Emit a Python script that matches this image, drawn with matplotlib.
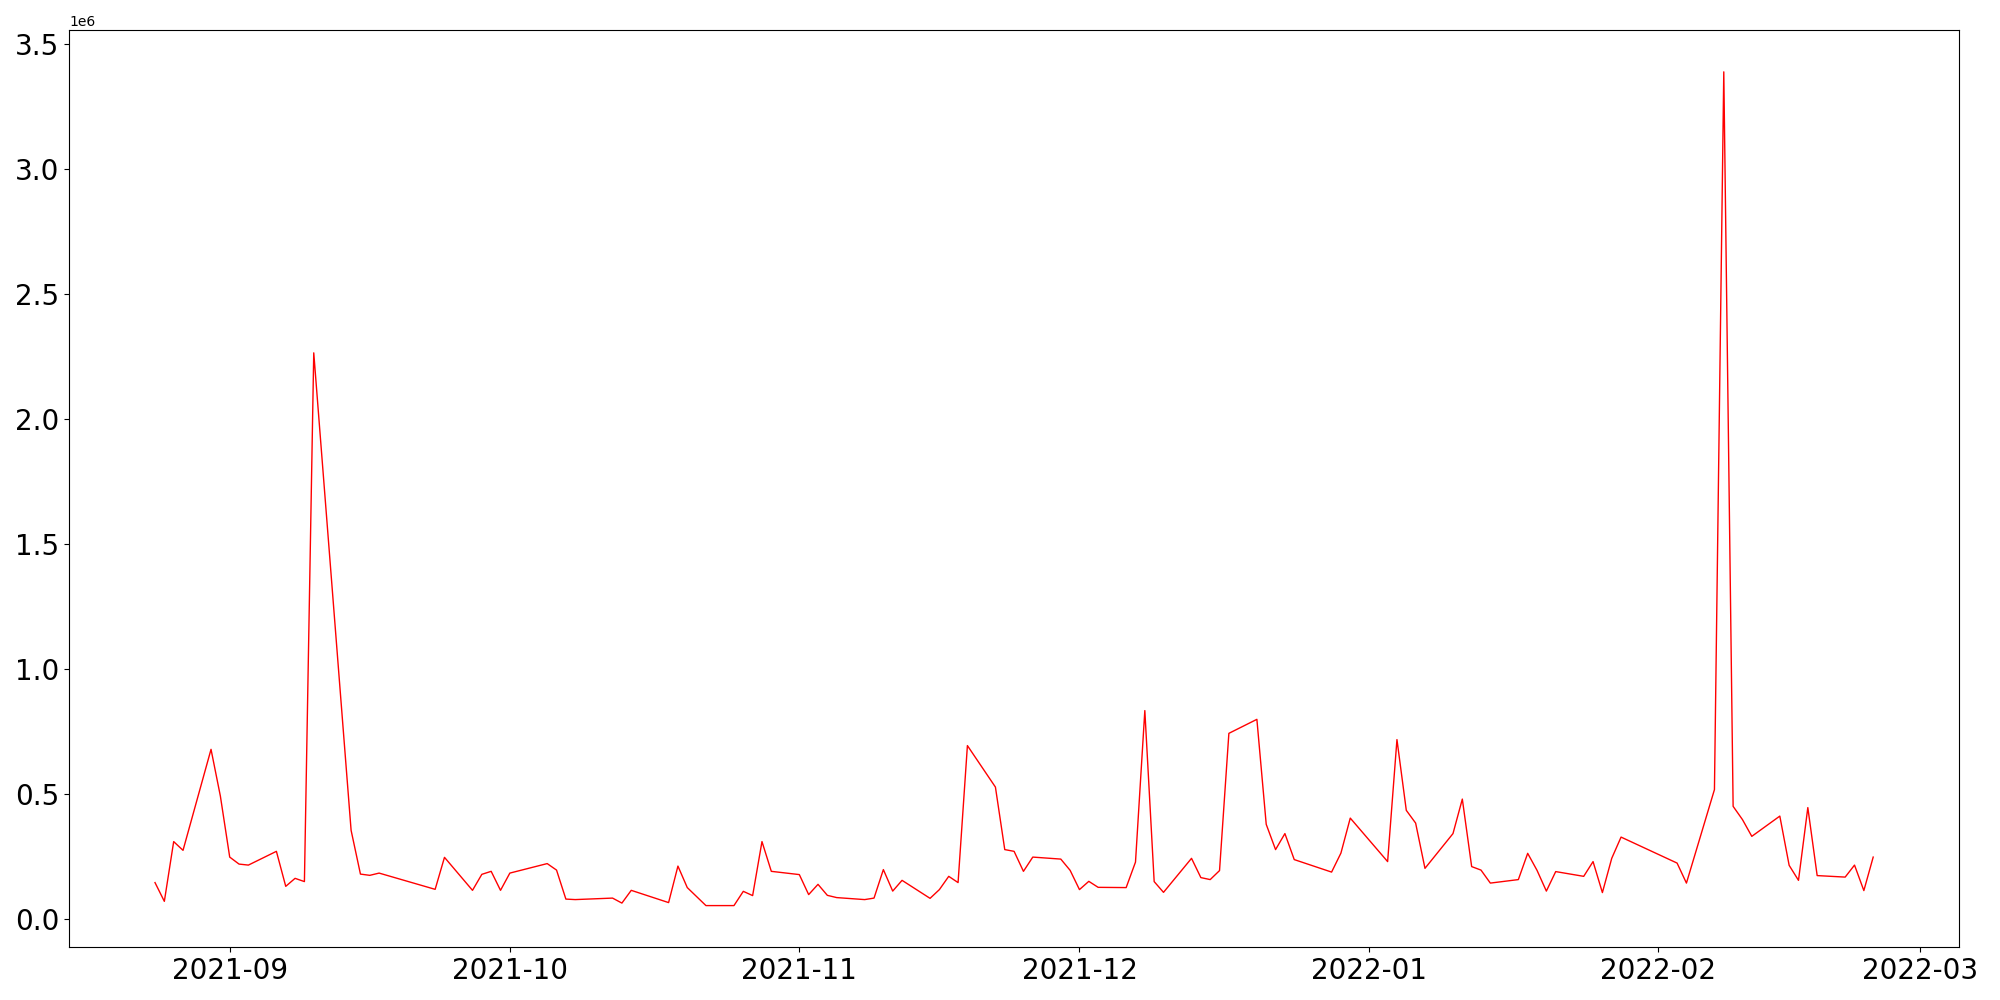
import matplotlib

matplotlib.use("Agg")
import matplotlib.pyplot as plt
import pandas as pd

# daily values (gaps = days with no record)
dates = [
    "2021-08-24", "2021-08-25", "2021-08-26", "2021-08-27", "2021-08-30", "2021-08-31",
    "2021-09-01", "2021-09-02", "2021-09-03", "2021-09-06", "2021-09-07", "2021-09-08",
    "2021-09-09", "2021-09-10", "2021-09-14", "2021-09-15", "2021-09-16", "2021-09-17",
    "2021-09-23", "2021-09-24", "2021-09-27", "2021-09-28", "2021-09-29", "2021-09-30",
    "2021-10-01", "2021-10-05", "2021-10-06", "2021-10-07", "2021-10-08", "2021-10-12",
    "2021-10-13", "2021-10-14", "2021-10-18", "2021-10-19", "2021-10-20", "2021-10-22",
    "2021-10-25", "2021-10-26", "2021-10-27", "2021-10-28", "2021-10-29", "2021-11-01",
    "2021-11-02", "2021-11-03", "2021-11-04", "2021-11-05", "2021-11-08", "2021-11-09",
    "2021-11-10", "2021-11-11", "2021-11-12", "2021-11-15", "2021-11-16", "2021-11-17",
    "2021-11-18", "2021-11-19", "2021-11-22", "2021-11-23", "2021-11-24", "2021-11-25",
    "2021-11-26", "2021-11-29", "2021-11-30", "2021-12-01", "2021-12-02", "2021-12-03",
    "2021-12-06", "2021-12-07", "2021-12-08", "2021-12-09", "2021-12-10", "2021-12-13",
    "2021-12-14", "2021-12-15", "2021-12-16", "2021-12-17", "2021-12-20", "2021-12-21",
    "2021-12-22", "2021-12-23", "2021-12-24", "2021-12-28", "2021-12-29", "2021-12-30",
    "2022-01-03", "2022-01-04", "2022-01-05", "2022-01-06", "2022-01-07", "2022-01-10",
    "2022-01-11", "2022-01-12", "2022-01-13", "2022-01-14", "2022-01-17", "2022-01-18",
    "2022-01-19", "2022-01-20", "2022-01-21", "2022-01-24", "2022-01-25", "2022-01-26",
    "2022-01-27", "2022-01-28", "2022-02-03", "2022-02-04", "2022-02-07", "2022-02-08",
    "2022-02-09", "2022-02-10", "2022-02-11", "2022-02-14", "2022-02-15", "2022-02-16",
    "2022-02-17", "2022-02-18", "2022-02-21", "2022-02-22", "2022-02-23", "2022-02-24",
]
values = [
    147000, 72000, 311000, 276000, 680000, 493000,
    249000, 221000, 217000, 272000, 132000, 164000,
    151000, 2266000, 356000, 181000, 176000, 185000,
    120000, 248000, 116000, 180000, 192000, 116000,
    185000, 223000, 197000, 81000, 79000, 85000,
    65000, 116000, 67000, 213000, 127000, 55000,
    55000, 112000, 95000, 311000, 192000, 179000,
    99000, 140000, 96000, 87000, 79000, 85000,
    199000, 113000, 156000, 84000, 119000, 172000,
    147000, 695000, 529000, 279000, 272000, 192000,
    249000, 241000, 196000, 119000, 152000, 128000,
    127000, 229000, 835000, 151000, 108000, 244000,
    167000, 159000, 195000, 744000, 800000, 380000,
    279000, 343000, 239000, 189000, 265000, 405000,
    231000, 719000, 436000, 385000, 204000, 343000,
    481000, 211000, 197000, 145000, 159000, 264000,
    196000, 113000, 191000, 172000, 231000, 107000,
    244000, 329000, 225000, 145000, 519000, 3390000,
    452000, 399000, 332000, 413000, 216000, 156000,
    447000, 175000, 169000, 217000, 115000, 249000,
]

series = pd.Series(values, index=pd.to_datetime(dates))

fig, ax = plt.subplots(figsize=(20, 10), dpi=100)
ax.plot(series.index, series.values, color="red", linewidth=1.0)
ax.tick_params(axis="both", labelsize=20)

fig.tight_layout()
fig.savefig("out.png", dpi=100)
